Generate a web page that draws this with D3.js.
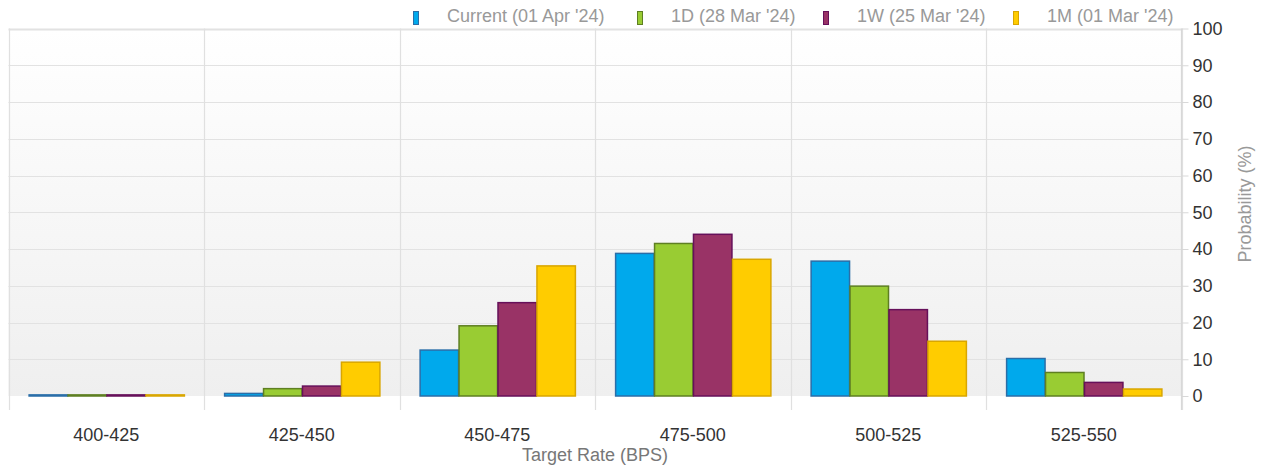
<!DOCTYPE html>
<html>
<head>
<meta charset="utf-8">
<script src="https://cdn.jsdelivr.net/npm/d3@7"></script>
<style>
  html, body { margin: 0; padding: 0; background: #fff; }
  svg { display: block; font-family: "Liberation Sans", Arial, sans-serif; }
</style>
</head>
<body>
<svg id="chart" width="1261" height="467"></svg>
<script>
// Target-rate buckets (basis points)
const categories = ["400-425", "425-450", "450-475", "475-500", "500-525", "525-550"];

// Probability (%) per bucket for each snapshot date
const seriesNames = ["Current (01 Apr '24)", "1D (28 Mar '24)", "1W (25 Mar '24)", "1M (01 Mar '24)"];
const currentVals = [0.3, 0.7, 12.5, 38.8, 36.7, 10.2];
const oneDayVals  = [0.3, 2.0, 19.1, 41.5, 29.9, 6.4];
const oneWeekVals = [0.3, 2.7, 25.4, 44.0, 23.5, 3.7];
const oneMonthVals = [0.3, 9.2, 35.4, 37.2, 14.9, 1.9];
const yTicks = [0, 10, 20, 30, 40, 50, 60, 70, 80, 90, 100];

const fills   = ["#00a9ec", "#99cc33", "#993366", "#ffcc00"];
const strokes = ["#2a6ea8", "#5e7f22", "#66105a", "#d9a600"];
const seriesVals = [currentVals, oneDayVals, oneWeekVals, oneMonthVals];

const svg = d3.select("#chart");
const plotLeft = 8.5, plotRight = 1181.5, plotTop = 28.5, zeroY = 396;
const fontSize = "18px";

const x = d3.scaleBand().domain(categories).range([plotLeft, plotRight]).paddingInner(0).paddingOuter(0);
const xInner = d3.scaleBand().domain(d3.range(seriesNames.length))
  .range([0, x.bandwidth()]).paddingInner(0).paddingOuter(0.51);
const y = d3.scaleLinear().domain([0, 100]).range([zeroY, plotTop]);

// plot background: soft vertical gradient
const defs = svg.append("defs");
const grad = defs.append("linearGradient").attr("id", "bg").attr("x1", 0).attr("y1", 0).attr("x2", 0).attr("y2", 1);
grad.append("stop").attr("offset", "0%").attr("stop-color", "#ffffff");
grad.append("stop").attr("offset", "100%").attr("stop-color", "#efefef");
svg.append("rect").attr("x", plotLeft).attr("y", plotTop).attr("width", plotRight - plotLeft).attr("height", zeroY - plotTop)
  .attr("fill", "url(#bg)");

// horizontal grid
svg.append("g").selectAll("line").data(yTicks.filter(d => d > 0)).join("line")
  .attr("x1", plotLeft).attr("x2", plotRight)
  .attr("y1", d => Math.round(y(d)) + 0.5).attr("y2", d => Math.round(y(d)) + 0.5)
  .attr("stroke", "#e2e2e2")
  .attr("stroke-width", d => d === 100 ? 2 : 1.2);

// vertical category dividers
const dividers = categories.map(c => x(c)).concat([plotRight]);
svg.append("g").selectAll("line").data(dividers).join("line")
  .attr("x1", d => Math.round(d) + 0.5).attr("x2", d => Math.round(d) + 0.5)
  .attr("y1", plotTop).attr("y2", 410)
  .attr("stroke", "#e0e0e0").attr("stroke-width", 1.2);

// bars
const groups = svg.append("g").selectAll("g").data(categories).join("g")
  .attr("transform", c => `translate(${x(c)},0)`);
groups.selectAll("rect").data((c, i) => seriesVals.map((s, k) => ({ k, v: s[i] }))).join("rect")
  .attr("x", d => xInner(d.k) + 0.75)
  .attr("width", xInner.bandwidth() - 0.5)
  .attr("y", d => y(d.v))
  .attr("height", d => Math.max(zeroY - y(d.v), 0.5))
  .attr("fill", d => fills[d.k])
  .attr("stroke", d => strokes[d.k])
  .attr("stroke-width", 1.5);

// right y axis
const yAxis = d3.axisRight(y).tickValues(yTicks).tickSize(7).tickPadding(4);
const ga = svg.append("g").attr("transform", `translate(${plotRight},0)`).call(yAxis);
ga.select(".domain").remove();
ga.selectAll(".tick line").attr("stroke", "#d8d8d8");
ga.selectAll(".tick text").attr("fill", "#333").style("font-size", fontSize)
  .style("font-family", "'Liberation Sans', Arial, sans-serif");
svg.append("line").attr("x1", plotRight).attr("x2", plotRight).attr("y1", plotTop).attr("y2", 410)
  .attr("stroke", "#d8d8d8").attr("stroke-width", 1.2);

svg.append("text").attr("transform", `translate(1251,204) rotate(-90)`)
  .attr("text-anchor", "middle").attr("fill", "#999").style("font-size", fontSize)
  .text("Probability (%)");

// x category labels
svg.append("g").selectAll("text").data(categories).join("text")
  .attr("x", c => x(c) + x.bandwidth() / 2).attr("y", 441)
  .attr("text-anchor", "middle").attr("fill", "#333").style("font-size", fontSize)
  .text(c => c);
svg.append("text").attr("x", (plotLeft + plotRight) / 2).attr("y", 461)
  .attr("text-anchor", "middle").attr("fill", "#777").style("font-size", fontSize)
  .text("Target Rate (BPS)");

// legend
const legendX = [413, 637, 823, 1013];
const leg = svg.append("g").selectAll("g").data(seriesNames).join("g")
  .attr("transform", (d, i) => `translate(${legendX[i]},0)`);
leg.append("rect").attr("x", 0.5).attr("y", 11.5).attr("width", 5).attr("height", 13)
  .attr("fill", (d, i) => fills[i]).attr("stroke", (d, i) => strokes[i]).attr("stroke-width", 1);
leg.append("text").attr("x", 34).attr("y", 22).attr("fill", "#999").style("font-size", fontSize)
  .text(d => d);
</script>
</body>
</html>
